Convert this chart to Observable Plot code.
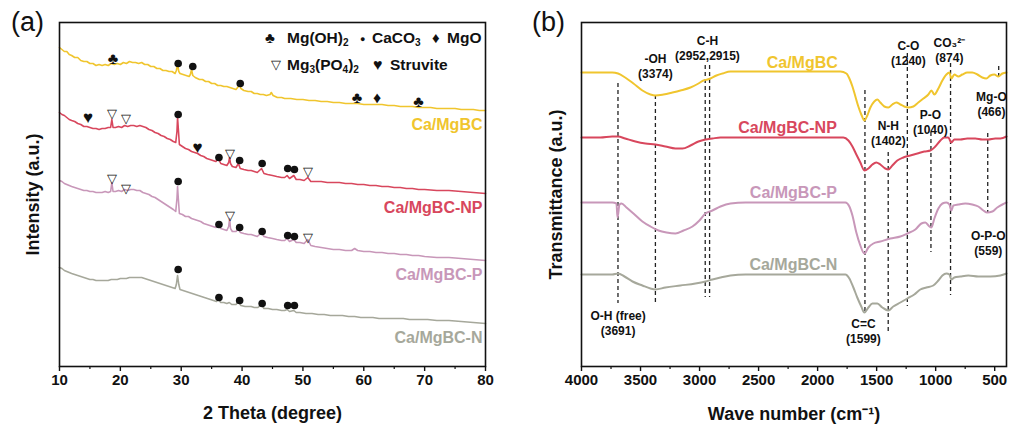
<!DOCTYPE html>
<html><head><meta charset="utf-8">
<script src="https://cdn.jsdelivr.net/npm/d3@7"></script>
<script src="https://cdn.jsdelivr.net/npm/@observablehq/plot@0.6"></script>
<style>
body{margin:0;background:#fff;font-family:Arial,"Liberation Sans",sans-serif;}
#wrap{position:relative;width:1011px;height:430px;overflow:hidden;background:#fff}
#pa{position:absolute;left:0;top:0}
#pb{position:absolute;left:505px;top:0}
.lg{position:absolute;font-weight:bold;font-size:15.5px;color:#111;white-space:nowrap;line-height:16px}
.lg sub{font-size:0.65em;vertical-align:-0.3em;line-height:0}
</style></head><body>
<div id="wrap"><div id="pa"></div><div id="pb"></div><div id="legend"></div></div>
<script>
// ---------- shared ----------
const seriesNames = ["Ca/MgBC", "Ca/MgBC-NP", "Ca/MgBC-P", "Ca/MgBC-N"];
const seriesColors = ["#f0c52e", "#d8475d", "#c897b9", "#a6a89b"];

// ---------- (a) XRD : [2theta, intensity a.u.] ----------
const xrdBC = [[10,319],[10.4,317],[10.8,315],[11.2,315],[11.6,312],[12,311],[12.5,309],[13,309],[13.5,306],[14,305],[14.5,305],[15,303],[15.5,303],[16,301],[16.5,302],[17,301],[17.5,302],[18,301],[18.5,303],[19,302],[19.5,303],[20,302],[20.5,304],[21,303],[21.5,305],[22,304],[22.5,304],[23,303],[23.5,304],[24,302],[24.5,302],[25,300],[25.5,300],[26,298],[26.5,298],[27,296],[27.5,296],[28,295],[28.5,295],[29,293],[29.2,296],[29.4,302],[29.6,295],[29.8,293],[30.3,292],[30.8,291],[31.3,290],[31.5,292],[31.7,297],[31.9,291],[32.3,289],[33,287],[33.5,287],[34,285],[34.5,285],[35,283],[35.5,283],[36,281],[36.5,281],[37,280],[37.5,280],[38,279],[38.5,278],[39,277],[39.4,280],[39.6,282],[39.8,278],[40.3,276],[41,275],[41.5,275],[42,273],[42.5,273],[43,272],[43.5,272],[44,271],[44.6,272],[44.8,274],[45.1,271],[45.8,269],[46.5,269],[47,268],[48,268],[49,267],[50,267],[51,266],[52,266],[53,265],[54,265],[55,264],[56,264],[57,263],[58,263],[59,263],[60,262],[61,262],[62,262],[63,262],[64,261],[65,261],[66,260],[67,260],[68,260],[69,259],[70,259],[71,259],[72,258],[73,258],[74,258],[75,258],[76,257],[77,257],[78,257],[79,256],[80,256]];
const xrdNP = [[10,254],[10.4,252],[10.8,251],[11.2,249],[11.6,247],[12,246],[12.5,245],[13,243],[13.5,242],[14,240],[14.5,240],[15,239],[15.5,238],[16,238],[16.5,237],[17,238],[17.5,238],[18,239],[18.4,239],[18.6,247],[18.8,239],[19.2,239],[19.7,240],[20.2,239],[20.7,241],[21.2,240],[21.7,241],[22.2,241],[22.7,240],[23.2,241],[23.7,240],[24.2,239],[24.7,237],[25.2,236],[25.7,234],[26.2,233],[26.7,231],[27.2,230],[27.7,228],[28.2,227],[28.7,225],[29.1,224],[29.3,235],[29.4,249],[29.5,240],[29.7,222],[30.2,220],[30.7,218],[31.2,217],[31.7,215],[32.2,214],[32.7,213],[33.2,211],[33.7,210],[34.2,208],[34.7,207],[35.2,206],[35.7,205],[36.1,208],[36.5,203],[37,202],[37.5,201],[37.8,204],[37.95,209],[38.1,203],[38.4,200],[39,199],[39.4,203],[39.7,198],[40.3,197],[41,196],[41.5,196],[42,195],[42.5,194],[43.2,198],[43.6,193],[44.2,192],[45,191],[45.7,190],[46.5,189],[47,189],[47.4,191],[47.8,188],[48.5,191],[48.9,187],[49.5,187],[50.2,186],[50.8,189],[51.3,185],[52,185],[53,185],[54,184],[55,184],[56,184],[57,183],[58,183],[59,182],[60,182],[61,181],[62,181],[63,180],[64,180],[65,179],[66,179],[67,178],[68,178],[69,177],[70,177],[72,176],[74,176],[76,175],[78,174],[80,173]];
const xrdP = [[10,186],[10.4,185],[10.8,183],[11.2,182],[11.6,181],[12,180],[12.5,179],[13,178],[13.5,177],[14,176],[14.5,176],[15,175],[15.5,175],[16,174],[16.5,174],[17,174],[17.5,175],[18,174],[18.4,175],[18.6,184],[18.8,175],[19.2,175],[19.7,176],[20.2,175],[20.7,177],[21.2,176],[21.7,177],[22.2,177],[22.7,176],[23.2,176],[23.7,174],[24.2,173],[24.7,172],[25.2,170],[25.7,169],[26.2,167],[26.7,165],[27.2,163],[27.7,161],[28.2,159],[28.7,157],[29.1,155],[29.3,168],[29.4,180],[29.5,170],[29.7,153],[30.2,152],[30.7,150],[31.2,150],[31.7,148],[32.2,147],[32.7,146],[33.2,145],[33.7,143],[34.2,142],[34.7,141],[35.2,140],[35.7,139],[36.1,142],[36.5,138],[37,137],[37.5,136],[37.8,140],[37.95,148],[38.1,138],[38.4,135],[39,135],[39.4,138],[39.7,134],[40.3,133],[41,132],[41.5,132],[42,131],[42.5,130],[43.2,134],[43.6,130],[44.2,129],[45,128],[45.7,127],[46.5,126],[47,126],[47.4,128],[47.8,125],[48.5,127],[48.9,124],[49.5,124],[50.2,123],[50.8,127],[51.3,121],[52,120],[53,119],[54,118],[55,117],[56,117],[57,116],[58,116],[58.5,118],[59,116],[60,115],[61,115],[62,114],[63,114],[64,113],[65,113],[66,112],[67,112],[68,111],[69,111],[70,110],[72,109],[74,109],[76,108],[78,107],[80,106]];
const xrdN = [[10,99],[10.4,98],[10.8,96],[11.2,95],[11.6,94],[12,93],[12.5,92],[13,91],[13.5,90],[14,89],[14.5,88],[15,87],[15.5,87],[16,86],[16.5,86],[17,86],[17.5,86],[18,86],[18.5,87],[19,87],[19.5,87],[20,88],[20.5,88],[21,88],[21.5,89],[22,89],[22.5,89],[23,89],[23.5,89],[24,88],[24.5,87],[25,86],[25.5,85],[26,84],[26.5,83],[27,82],[27.5,81],[28,80],[28.5,79],[29,78],[29.2,82],[29.4,91],[29.6,82],[29.8,77],[30.3,76],[30.8,75],[31.3,74],[31.8,73],[32.3,72],[32.8,71],[33.3,70],[33.8,69],[34.3,68],[34.8,67],[35.3,66],[35.8,65],[36.1,67],[36.5,64],[37,64],[37.5,63],[37.9,64],[38.3,62],[39,62],[39.4,65],[39.8,61],[40.5,60],[41,60],[41.5,60],[42,59],[42.6,59],[43.2,62],[43.6,58],[44.3,58],[45,57],[45.7,57],[46.5,56],[47,56],[47.4,57],[47.8,55],[48.5,56],[48.9,54],[49.5,54],[50.5,53],[51.5,53],[52.5,52],[53.5,52],[54.5,51],[55.5,51],[56.5,51],[57.5,50],[58.5,50],[59.5,49],[60.5,49],[61.5,49],[62.5,48],[63.5,48],[64.5,48],[65.5,48],[66.5,48],[67.5,47],[68.5,47],[69.5,47],[70.5,47],[72,46],[74,46],[76,45],[78,44],[80,43]];
const xrdTicks = [10, 20, 30, 40, 50, 60, 70, 80];
const xrdMinor = [15, 25, 35, 45, 55, 65, 75];

// phase markers: [symbol, 2theta, intensity]
const phaseMarks = [
  ["♣",18.8,308],["●",29.5,303],["●",31.9,300],["●",39.7,283],["♣",58.9,269],["♦",62.2,269],["♣",69.0,265],
  ["♥",14.7,249],["▽",18.6,253],["▽",20.9,248],["●",29.5,252],["♥",32.7,219],["●",36.2,209],["▽",38.0,213],["●",39.6,206],["●",43.3,203],["●",47.5,198],["●",48.6,197],["▽",50.8,195],
  ["▽",18.7,188],["▽",20.9,178],["●",29.5,185],["●",36.2,142],["▽",38.0,151],["●",39.6,139],["●",43.3,135],["●",47.5,131],["●",48.6,130],["▽",50.8,129],
  ["●",29.5,97],["●",36.2,69],["●",39.6,66],["●",43.3,63],["●",47.5,61],["●",48.6,61]
];

// ---------- (b) FTIR : [wavenumber, transmittance a.u.] ----------
const ftirBC = [[4000,294],[3840,294],[3740,294],[3690,293],[3630,289],[3560,283],[3484,276],[3416,272],[3374,271],[3306,272],[3230,274],[3162,276],[3077,279],[3009,283],[2967,286],[2933,287],[2908,288],[2857,291],[2806,293],[2738,295],[2611,295],[2315,295],[1976,295],[1807,295],[1756,293],[1731,288],[1705,280],[1680,270],[1655,260],[1630,252],[1604,246],[1579,251],[1553,259],[1520,265],[1494,267],[1469,264],[1435,260],[1401,259],[1367,262],[1333,264],[1299,262],[1266,260],[1231,259],[1189,260],[1147,264],[1104,268],[1062,272],[1036,276],[1011,272],[977,278],[943,286],[909,292],[884,294],[867,288],[842,292],[808,290],[774,292],[732,294],[690,294],[647,292],[605,289],[571,288],[537,291],[503,292],[469,290],[435,293],[400,294]];
const ftirNP = [[4000,229],[3840,229],[3740,230],[3690,230],[3630,228],[3543,225],[3458,223],[3374,222],[3289,220],[3204,218],[3145,218],[3077,221],[3009,225],[2950,227],[2891,228],[2823,229],[2696,229],[2315,229],[1976,229],[1782,229],[1739,226],[1705,220],[1672,212],[1638,204],[1604,196],[1570,198],[1536,202],[1503,204],[1469,202],[1427,198],[1401,197],[1367,201],[1325,206],[1274,209],[1215,211],[1155,213],[1096,215],[1045,216],[1003,220],[960,226],[926,229],[893,229],[867,224],[842,227],[791,227],[732,228],[664,228],[605,227],[554,227],[495,228],[452,228],[400,230]];
const ftirP = [[4000,164],[3840,164],[3740,164],[3704,163],[3695,149],[3678,162],[3661,163],[3619,159],[3560,153],[3484,145],[3416,140],[3348,136],[3280,134],[3204,133],[3136,136],[3060,140],[3001,146],[2950,153],[2891,156],[2823,160],[2738,163],[2611,164],[2230,164],[1892,164],[1765,164],[1731,160],[1705,151],[1672,134],[1638,121],[1604,113],[1570,119],[1528,123],[1469,125],[1384,128],[1299,130],[1240,133],[1172,137],[1121,143],[1087,144],[1053,140],[1036,139],[1011,148],[977,158],[943,163],[909,164],[884,162],[867,156],[850,161],[808,162],[749,163],[690,162],[639,160],[596,156],[563,154],[520,155],[478,159],[435,162],[400,164]];
const ftirN = [[4000,92],[3840,92],[3740,92],[3690,93],[3636,90],[3568,85],[3484,81],[3416,78],[3374,77],[3289,79],[3162,81],[3035,83],[2950,85],[2891,87],[2823,89],[2738,91],[2611,92],[2230,92],[1892,92],[1765,92],[1731,88],[1697,79],[1664,69],[1630,60],[1604,54],[1570,59],[1536,63],[1494,63],[1452,59],[1401,56],[1359,60],[1299,64],[1240,68],[1181,72],[1130,77],[1079,79],[1020,81],[977,86],[943,91],[909,93],[884,92],[867,87],[842,89],[791,90],[723,91],[639,90],[537,90],[452,91],[400,93]];
const ftirTicks = [4000, 3500, 3000, 2500, 2000, 1500, 1000, 500];
const ftirMinor = [3750, 3250, 2750, 2250, 1750, 1250, 750];
const ftirLabelWave = [2130, 2255, 2205, 2205];

// band markers: [wavenumber, from, to]
const bandLines = [[3691,283,63],[3374,271,63],[2952,301,69],[2915,301,69],[1599,276,54],[1402,214,35],[1240,313,60],[1040,234,114],[874,303,71],[559,233,154],[466,300,286]];
// band labels: [text, wavenumber, transmittance]
const bandLabels = [
  ["-OH\n(3374)",3374,301],["C-H\n(2952,2915)",2933,318.5],["C-O\n(1240)",1231,314],["CO₃²⁻\n(874)",884,316.5],
  ["Mg-O\n(466)",528,262.5],["N-H\n(1402)",1401,234],["P-O\n(1040)",1045,245],["O-P-O\n(559)",554,124],
  ["O-H (free)\n(3691)",3690,44],["C=C\n(1599)",1612,35.5]
];

// ---------- build ----------
const FONT = "Arial, 'Liberation Sans', sans-serif";
const rows = (arr, name) => arr.map(([x, y]) => ({name, x, y}));
const xrdSets = [xrdBC, xrdNP, xrdP, xrdN];
const ftirSets = [ftirBC, ftirNP, ftirP, ftirN];

const markerRows = phaseMarks.map(([s, x, y]) => ({s, x, y}));
const dotRows = markerRows.filter(d => d.s === "●");
const glyphRows = markerRows.filter(d => d.s !== "●");
const glyphSize = {"♣": 16, "♦": 16, "♥": 17, "▽": 13};
const C = {textAnchor: "middle", lineAnchor: "middle"};

const panelA = Plot.plot({
  width: 505, height: 430,
  marginLeft: 59, marginRight: 20, marginTop: 22, marginBottom: 64,
  x: {domain: [10, 80]},
  y: {domain: [0, 344], axis: null},
  style: {fontFamily: FONT, fontSize: "15px", fontWeight: "bold", background: "white", overflow: "visible", color: "#111"},
  marks: [
    ...xrdSets.map((s, i) => Plot.line(rows(s, seriesNames[i]), {x: "x", y: "y", stroke: seriesColors[i], strokeWidth: 1.6})),
    ...xrdSets.map((s, i) => Plot.text(rows(s, seriesNames[i]), Plot.selectLast({x: "x", y: "y", text: "name", fill: seriesColors[i], fontSize: 16, fontWeight: "bold", textAnchor: "end", lineAnchor: "middle", dx: -3, dy: 14}))),
    Plot.dot(dotRows, {x: "x", y: "y", r: 3.8, fill: "#111", stroke: null}),
    ...Object.keys(glyphSize).map(g => Plot.text(glyphRows.filter(d => d.s === g), {x: "x", y: "y", text: "s", fontSize: glyphSize[g], fill: "#111", fontWeight: "normal", ...C})),
    Plot.axisX({ticks: xrdTicks, tickSize: 5, tickPadding: 3, tickFormat: d => String(d), fontSize: 15, fontWeight: "bold", label: null, strokeWidth: 1.4}),
    Plot.axisX({ticks: xrdMinor, tickSize: 3, tickFormat: () => "", label: null, strokeWidth: 1.2}),
    Plot.frame({stroke: "#111", strokeWidth: 1.6}),
    Plot.text(["2 Theta (degree)"], {frameAnchor: "bottom", dy: 47, fontSize: 18, fontWeight: "bold", fill: "#111", ...C}),
    Plot.text(["Intensity (a.u.)"], {frameAnchor: "left", rotate: -90, dx: -26, fontSize: 18, fontWeight: "bold", fill: "#111", ...C}),
    Plot.text(["(a)"], {frameAnchor: "top-left", dx: -32, dy: 0, fontSize: 27, fontWeight: "normal", fill: "#111", ...C})
  ]
});
document.getElementById("pa").append(panelA);

const ftirLabelRows = ftirSets.map((s, i) => ({name: seriesNames[i], x: ftirLabelWave[i], y: s[0][1], c: seriesColors[i]}));
const panelB = Plot.plot({
  width: 506, height: 430,
  marginLeft: 76, marginRight: 5, marginTop: 22, marginBottom: 64,
  x: {domain: [4000, 400]},
  y: {domain: [0, 344], axis: null},
  style: {fontFamily: FONT, fontSize: "15px", fontWeight: "bold", background: "white", overflow: "visible", color: "#111"},
  marks: [
    Plot.ruleX(bandLines.map(([x, y1, y2]) => ({x, y1, y2})), {x: "x", y1: "y1", y2: "y2", stroke: "#222", strokeWidth: 1.3, strokeDasharray: "4,3"}),
    ...ftirSets.map((s, i) => Plot.line(rows(s, seriesNames[i]), {x: "x", y: "y", stroke: seriesColors[i], strokeWidth: 2, curve: "monotone-x"})),
    ...ftirLabelRows.map(d => Plot.text([d], {x: "x", y: "y", text: "name", fill: d.c, fontSize: 16, fontWeight: "bold", dy: -10, ...C})),
    Plot.text(bandLabels.map(([t, x, y]) => ({t, x, y})), {x: "x", y: "y", text: "t", fontSize: 12, fontWeight: "bold", fill: "#111", lineHeight: 1.25, ...C}),
    Plot.axisX({ticks: ftirTicks, tickSize: 5, tickPadding: 3, tickFormat: d => String(d), fontSize: 15, fontWeight: "bold", label: null, strokeWidth: 1.4}),
    Plot.axisX({ticks: ftirMinor, tickSize: 3, tickFormat: () => "", label: null, strokeWidth: 1.2}),
    Plot.frame({stroke: "#111", strokeWidth: 1.6}),
    Plot.text(["Wave number (cm⁻¹)"], {frameAnchor: "bottom", dy: 48, fontSize: 18, fontWeight: "bold", fill: "#111", ...C}),
    Plot.text(["Transmittance (a.u.)"], {frameAnchor: "left", rotate: -90, dx: -25, fontSize: 18, fontWeight: "bold", fill: "#111", ...C}),
    Plot.text(["(b)"], {frameAnchor: "top-left", dx: -33, dy: 0, fontSize: 27, fontWeight: "normal", fill: "#111", ...C})
  ]
});
document.getElementById("pb").append(panelB);

// ---------- legend (panel a) ----------
const legendItems = [
  {html: "♣", left: 265, top: 30, size: 15}, {html: "Mg(OH)<sub>2</sub>", left: 287, top: 30},
  {html: "●", left: 360, top: 31, size: 9}, {html: "CaCO<sub>3</sub>", left: 372, top: 30},
  {html: "♦", left: 432, top: 30, size: 15}, {html: "MgO", left: 447, top: 30},
  {html: "▽", left: 271, top: 57, size: 13}, {html: "Mg<sub>3</sub>(PO<sub>4</sub>)<sub>2</sub>", left: 287, top: 57},
  {html: "♥", left: 373, top: 57, size: 16}, {html: "Struvite", left: 390, top: 57}
];
const lg = document.getElementById("legend");
for (const it of legendItems) {
  const s = document.createElement("span");
  s.className = "lg";
  s.style.left = it.left + "px";
  s.style.top = it.top + "px";
  if (it.size) { s.style.fontSize = it.size + "px"; s.style.fontWeight = "normal"; }
  s.innerHTML = it.html;
  lg.append(s);
}
</script>
</body></html>
